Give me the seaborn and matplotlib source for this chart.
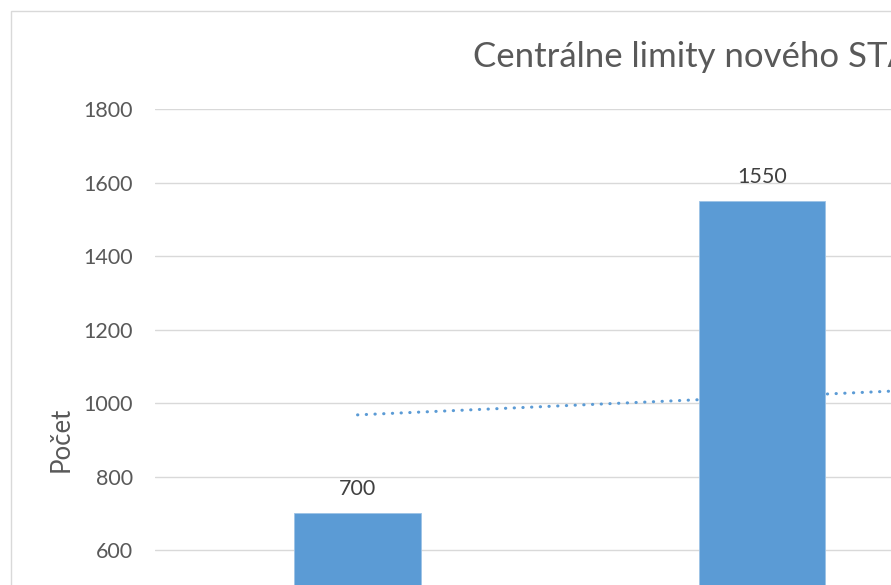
import numpy as np
import pandas as pd
import matplotlib
matplotlib.use("Agg")
import matplotlib.pyplot as plt
from matplotlib.patches import Rectangle
import seaborn as sns

# ---- data ----
categories = ["1", "2"]
counts = [700, 1550]
trend_values = [968, 1017]          # linear trendline value at each category
y_ticks = [600, 800, 1000, 1200, 1400, 1600, 1800]   # visible tick labels
title_text = "Centrálne limity nového STA"
ylabel_text = "Počet"

BLUE = "#5B9BD5"
GRID = "#D9D9D9"
TXT = "#595959"

sns.set_theme(style="white")
plt.rcParams["font.family"] = ["Lato", "DejaVu Sans"]

W, H = 891, 585
fig = plt.figure(figsize=(W / 100, H / 100), dpi=100)

# axes placed in pixel terms (chart is cropped on the right and bottom)
left_px, top_px, bottom_px = 155.3, 109.3, 770.4
cat_px = 404.5
ax = fig.add_axes([left_px / W, (H - bottom_px) / H,
                   2 * cat_px / W, (bottom_px - top_px) / H])

df = pd.DataFrame({"cat": categories, "count": counts})
sns.barplot(data=df, x="cat", y="count", color=BLUE, width=0.313,
            saturation=1, edgecolor="#9DC3E6", linewidth=0.6, ax=ax, zorder=3)

# trendline (linear), extended over the visible category range
coef = np.polyfit(np.arange(len(trend_values)), trend_values, 1)
tx = np.array([0, 1.6])
ax.plot(tx, np.polyval(coef, tx), color=BLUE, lw=2.2,
        linestyle=(0, (0.1, 2.75)), dash_capstyle="round", zorder=2)

ax.set_xlim(-0.5, 1.5)
ax.set_ylim(0, 1800)
ax.set_yticks(y_ticks)
ax.set_yticklabels([str(v) for v in y_ticks])
ax.set_xticks([])
ax.grid(axis="y", color=GRID, lw=1.0, zorder=0)
ax.set_axisbelow(True)
for s in ax.spines.values():
    s.set_visible(False)
ax.tick_params(axis="y", length=0, pad=16, labelsize=15.5, labelcolor=TXT)
ax.set_xlabel("")
ax.set_ylabel(ylabel_text, fontsize=18.5, color=TXT)
ax.yaxis.set_label_coords((74 - left_px) / (2 * cat_px), 0.5)

for i, v in enumerate(counts):
    ax.annotate(str(v), (i, v), xytext=(0, 13), textcoords="offset points",
                ha="center", va="baseline", fontsize=15.5, color="#404040")

fig.text(473 / W, (H - 67) / H, title_text, ha="left", va="baseline",
         fontsize=25, color=TXT)

# chart-area frame (continues beyond the crop)
fig.patches.append(Rectangle((10.5 / W, -0.5), 2.0, (H - 10.7) / H + 0.5,
                             transform=fig.transFigure, fill=False,
                             edgecolor=GRID, lw=1.0))

fig.savefig("out.png", dpi=100, facecolor="white")
